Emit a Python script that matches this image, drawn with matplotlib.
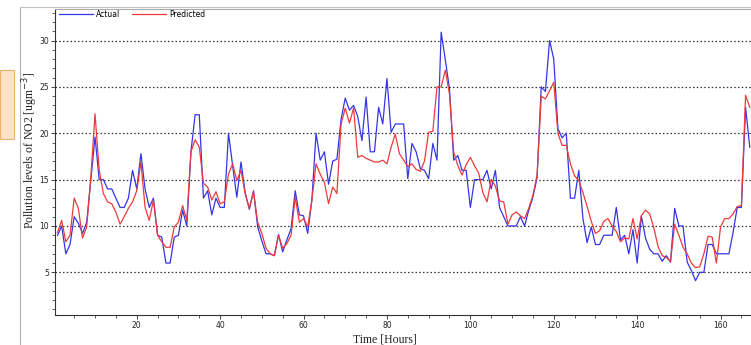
import numpy as np
import matplotlib
matplotlib.use('Agg')
import matplotlib.pyplot as plt
from matplotlib.patches import Rectangle
from matplotlib.lines import Line2D

# hourly NO2 values (hours 1..167)
actual = [
    9.0, 10.0, 7.0, 8.0, 11.0, 10.3, 9.2, 10.4, 15.0, 19.6,
    15.0, 15.0, 14.0, 14.0, 13.0, 12.0, 12.0, 13.0, 16.0, 14.0,
    17.8, 14.0, 12.0, 13.0, 9.0, 8.8, 6.0, 6.0, 8.8, 9.0,
    11.7, 10.0, 18.0, 22.0, 22.0, 13.0, 13.8, 11.2, 13.0, 12.0,
    12.0, 20.0, 16.5, 13.1, 16.9, 13.6, 11.8, 13.8, 9.9, 8.4,
    7.0, 7.0, 6.8, 9.1, 7.2, 8.5, 9.7, 13.8, 11.2, 11.1,
    9.2, 12.8, 20.0, 17.1, 18.0, 14.5, 17.0, 17.2, 21.5, 23.8,
    22.5, 23.0, 21.8, 19.2, 23.9, 18.0, 18.0, 22.8, 21.0, 25.9,
    20.1, 21.0, 21.0, 21.0, 15.1, 18.9, 18.0, 16.2, 16.0, 15.1,
    18.9, 17.1, 30.9, 27.9, 24.8, 17.1, 17.6, 16.0, 16.0, 12.0,
    15.0, 15.0, 15.0, 16.0, 14.0, 16.0, 12.0, 11.0, 10.0, 10.0,
    10.0, 11.0, 10.0, 11.7, 13.1, 15.2, 25.0, 24.5, 30.0, 28.0,
    20.5, 19.5, 20.0, 13.0, 13.0, 16.0, 10.8, 8.2, 9.9, 8.0,
    8.0, 9.0, 9.0, 9.0, 12.0, 8.5, 9.0, 7.0, 9.6, 6.0,
    11.1, 8.7, 7.5, 7.0, 7.0, 6.2, 6.8, 6.1, 11.9, 10.0,
    10.0, 6.1, 5.2, 4.1, 5.0, 5.0, 8.0, 8.0, 7.0, 7.0,
    7.0, 7.0, 9.3, 12.0, 12.0, 22.8, 18.5,
]

predicted = [
    9.3, 10.6, 8.3, 9.0, 13.0, 11.9, 8.7, 9.9, 15.3, 22.1,
    16.0, 13.5, 12.6, 12.4, 11.5, 10.2, 11.0, 11.9, 12.6, 13.8,
    16.9, 12.0, 10.6, 12.8, 9.0, 8.3, 7.7, 7.7, 9.9, 10.4,
    12.2, 10.6, 18.0, 19.3, 18.5, 14.6, 14.2, 12.8, 13.7, 12.4,
    12.6, 15.6, 16.7, 14.9, 16.0, 13.5, 11.9, 13.7, 10.4, 9.2,
    7.6, 7.0, 6.8, 9.0, 7.6, 8.1, 9.0, 13.1, 10.4, 10.8,
    9.9, 12.8, 16.7, 15.6, 14.7, 12.4, 14.2, 13.5, 21.0, 22.7,
    21.1, 22.7, 17.4, 17.6, 17.3, 17.1, 16.9, 16.9, 17.1, 16.7,
    18.5, 19.9, 17.8, 17.1, 16.4, 16.7, 16.1, 15.9, 17.0, 20.1,
    20.2, 25.0, 25.0, 26.8, 24.2, 18.0, 16.5, 15.5, 16.6, 17.4,
    16.5, 15.7, 13.6, 12.6, 15.0, 14.3, 12.7, 12.6, 10.2, 11.2,
    11.5, 11.1, 10.8, 11.9, 13.3, 15.5, 24.0, 23.7, 24.6, 25.5,
    20.0, 18.7, 18.7, 16.7, 15.4, 14.9, 13.6, 12.1, 10.5, 9.2,
    9.5, 10.5, 10.8, 10.0, 9.4, 8.3, 8.7, 8.6, 10.8, 8.6,
    11.1, 11.7, 11.3, 9.8, 7.8, 6.8, 6.6, 6.2, 10.2, 9.0,
    7.7, 7.0, 6.0, 5.5, 5.6, 7.0, 8.9, 8.8, 6.0, 9.9,
    10.8, 10.8, 11.3, 12.1, 12.2, 24.1, 22.8,
]

hours = np.arange(1, len(actual) + 1)

W, H = 751, 345
fig = plt.figure(figsize=(W / 100, H / 100), dpi=100)

# axes box in pixel terms
left, right, top, bottom = 55, 751, 9, 315
ax = fig.add_axes([left / W, 1 - bottom / H, (right - left) / W, (bottom - top) / H])

ax.plot(hours, actual, color='#3535e8', lw=0.9, label='Actual')
ax.plot(hours, predicted, color='#ee3a3a', lw=0.9, label='Predicted')

ax.set_xlim(0.4, 167.3)
ax.set_ylim(0.4, 33.4)

ax.set_yticks([5, 10, 15, 20, 25, 30])
ax.set_yticks(np.arange(1, 34, 1), minor=True)
ax.set_xticks([20, 40, 60, 80, 100, 120, 140, 160])
ax.set_xticks(np.arange(5, 168, 5), minor=True)
ax.tick_params(axis='both', which='major', labelsize=5.5, length=3, width=0.6,
               direction='out', pad=1.5, colors='#222222')
ax.tick_params(axis='both', which='minor', length=2, width=0.5, direction='out',
               colors='#222222')

ax.yaxis.grid(True, which='major', linestyle=(0, (1.2, 1.8)), color='#333333', lw=0.9)
ax.set_axisbelow(True)

for s in ['left', 'bottom']:
    ax.spines[s].set_color('#333333')
    ax.spines[s].set_linewidth(0.8)
ax.spines['top'].set_color('#aaaaaa')
ax.spines['top'].set_linewidth(0.8)
ax.spines['right'].set_visible(False)

ax.legend(loc='upper left', ncol=2, frameon=False, fontsize=5.5,
          handlelength=4.5, handletextpad=0.4, columnspacing=1.5,
          borderaxespad=0.1, bbox_to_anchor=(0.0, 1.01))

fig.text(30 / W, 1 - 150 / H, 'Pollution levels of NO2 [ugm$^{-3}$]',
         rotation=90, ha='center', va='center', fontsize=8.5,
         family='Liberation Serif', color='#222222')
fig.text(385 / W, 1 - 339 / H, 'Time [Hours]', ha='center', va='center',
         fontsize=8.5, family='Liberation Serif', color='#222222')

# frame remnants of the screenshot
fig.add_artist(Line2D([20 / W, 20 / W], [0, 1 - 7 / H], transform=fig.transFigure,
                      color='#b0b0b0', lw=0.8))
fig.add_artist(Line2D([20 / W, 1], [1 - 7 / H, 1 - 7 / H], transform=fig.transFigure,
                      color='#c0c0c0', lw=0.8))
fig.add_artist(Rectangle((0, 1 - 139 / H), 14 / W, 69 / H, transform=fig.transFigure,
                         facecolor='#fde3c4', edgecolor='#f0b070', lw=0.8))

fig.savefig('out.png', dpi=100)
